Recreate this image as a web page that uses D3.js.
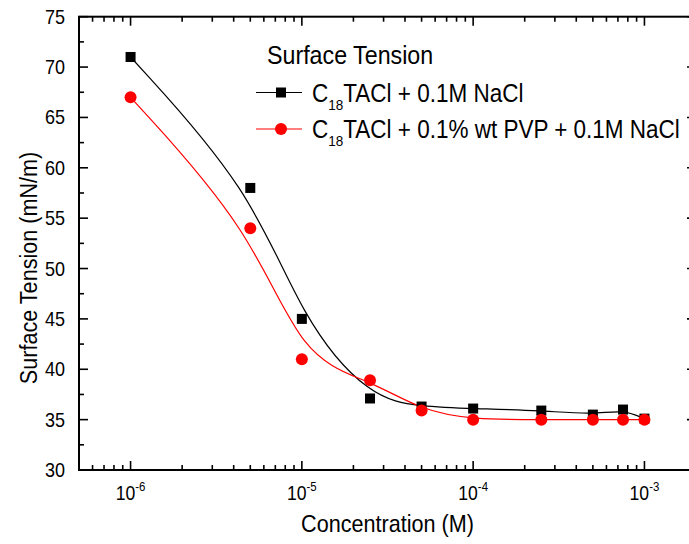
<!DOCTYPE html>
<html>
<head>
<meta charset="utf-8">
<script src="https://cdn.jsdelivr.net/npm/d3@7"></script>
<style>
body { margin: 0; background: #fff; }
text { font-family: "Liberation Sans", Arial, sans-serif; fill: #000; }
</style>
</head>
<body>
<svg id="chart" width="689" height="544"></svg>
<script>
// values
const concentrations = [1e-6, 5e-6, 1e-5, 2.5e-5, 5e-5, 1e-4, 2.5e-4, 5e-4, 7.5e-4, 1e-3];
const tensionNaCl = [71, 58, 45, 37.1, 36.3, 36.1, 35.9, 35.5, 36.0, 35.1];
const tensionPVP = [67, 54, 41, 38.9, 35.9, 35, 35, 35, 35, 35];
const xMajorTicks = [1e-6, 1e-5, 1e-4, 1e-3];
const xTickExponents = ["-6", "-5", "-4", "-3"];
const yMajorTicks = [30, 35, 40, 45, 50, 55, 60, 65, 70, 75];
const legendTitle = "Surface Tension";
const seriesNames = ["TACl + 0.1M NaCl", "TACl + 0.1% wt PVP + 0.1M NaCl"];

const mLeft = 79, mRight = 696, mTop = 16.7, mBottom = 470;

const svg = d3.select("#chart");

const x = d3.scaleLog()
  .domain([5e-7, 2e-3])
  .range([mLeft, mRight]);
const y = d3.scaleLinear()
  .domain([30, 75])
  .range([mBottom, mTop]);

// squeezed text, the original font is a bit narrow
function label(x0, y0, size, sx) {
  return svg.append("text")
    .attr("transform", `translate(${x0},${y0}) scale(${sx},1)`)
    .style("font-size", size + "px");
}

const xMinor = x.ticks().filter(d => !xMajorTicks.includes(d));
const yMinor = d3.range(32.5, 75, 5);

const ticks = svg.append("g").attr("stroke", "#000").attr("stroke-width", 1.6);
// bottom + top
xMajorTicks.forEach(d => {
  ticks.append("line").attr("x1", x(d)).attr("x2", x(d)).attr("y1", mBottom).attr("y2", mBottom - 9);
  ticks.append("line").attr("x1", x(d)).attr("x2", x(d)).attr("y1", mTop).attr("y2", mTop + 9);
});
xMinor.forEach(d => {
  ticks.append("line").attr("x1", x(d)).attr("x2", x(d)).attr("y1", mBottom).attr("y2", mBottom - 5);
  ticks.append("line").attr("x1", x(d)).attr("x2", x(d)).attr("y1", mTop).attr("y2", mTop + 5);
});
// left + right
yMajorTicks.forEach(d => {
  ticks.append("line").attr("x1", mLeft).attr("x2", mLeft + 9).attr("y1", y(d)).attr("y2", y(d));
  ticks.append("line").attr("x1", mRight).attr("x2", mRight - 9).attr("y1", y(d)).attr("y2", y(d));
});
yMinor.forEach(d => {
  ticks.append("line").attr("x1", mLeft).attr("x2", mLeft + 5).attr("y1", y(d)).attr("y2", y(d));
});

svg.append("rect")
  .attr("x", mLeft).attr("y", mTop)
  .attr("width", mRight - mLeft).attr("height", mBottom - mTop)
  .attr("fill", "none").attr("stroke", "#000").attr("stroke-width", 2);

// tick labels
yMajorTicks.forEach(d => {
  label(65, y(d) + 7, 20, 0.9).attr("text-anchor", "end").text(d);
});
xMajorTicks.forEach((d, i) => {
  const t = label(x(d), 500, 20, 0.88).attr("text-anchor", "middle");
  t.append("tspan").text("10");
  t.append("tspan").attr("dy", -9).style("font-size", "13px").text(xTickExponents[i]);
});

// axis titles
label((mLeft + mRight) / 2, 532, 24, 0.9).attr("text-anchor", "middle").text("Concentration (M)");
svg.append("text")
  .attr("transform", `translate(37,268) rotate(-90) scale(0.9,1)`)
  .attr("text-anchor", "middle")
  .style("font-size", "24px")
  .text("Surface Tension (mN/m)");

// smoothed curves
const line = d3.line()
  .x(d => x(d[0]))
  .y(d => y(d[1]))
  .curve(d3.curveBasis);

const series = [
  { values: tensionNaCl, color: "#000", shape: "square" },
  { values: tensionPVP, color: "#ff0000", shape: "circle" }
];

series.forEach(s => {
  const pts = concentrations.map((c, i) => [c, s.values[i]]);
  svg.append("path")
    .attr("d", line(pts))
    .attr("fill", "none")
    .attr("stroke", s.color)
    .attr("stroke-width", 1.2);
});

function marker(g, shape, color, cx, cy) {
  if (shape === "square") {
    g.append("rect").attr("x", cx - 5).attr("y", cy - 5).attr("width", 10).attr("height", 10).attr("fill", color);
  } else {
    g.append("circle").attr("cx", cx).attr("cy", cy).attr("r", 6).attr("fill", color);
  }
}

series.forEach(s => {
  const g = svg.append("g");
  concentrations.forEach((c, i) => marker(g, s.shape, s.color, x(c), y(s.values[i])));
});

// legend
label(267, 64, 25, 0.93).text(legendTitle);
series.forEach((s, i) => {
  const ly = 92.5 + i * 36.5;
  svg.append("line")
    .attr("x1", 256).attr("x2", 302).attr("y1", ly).attr("y2", ly)
    .attr("stroke", s.color).attr("stroke-width", 1.2);
  marker(svg, s.shape, s.color, 281, ly);
  const t = label(312, ly + 9, 25, 0.9);
  t.append("tspan").text("C");
  t.append("tspan").attr("dy", 8).style("font-size", "15px").text("18");
  t.append("tspan").attr("dy", -8).text(seriesNames[i]);
});
</script>
</body>
</html>
